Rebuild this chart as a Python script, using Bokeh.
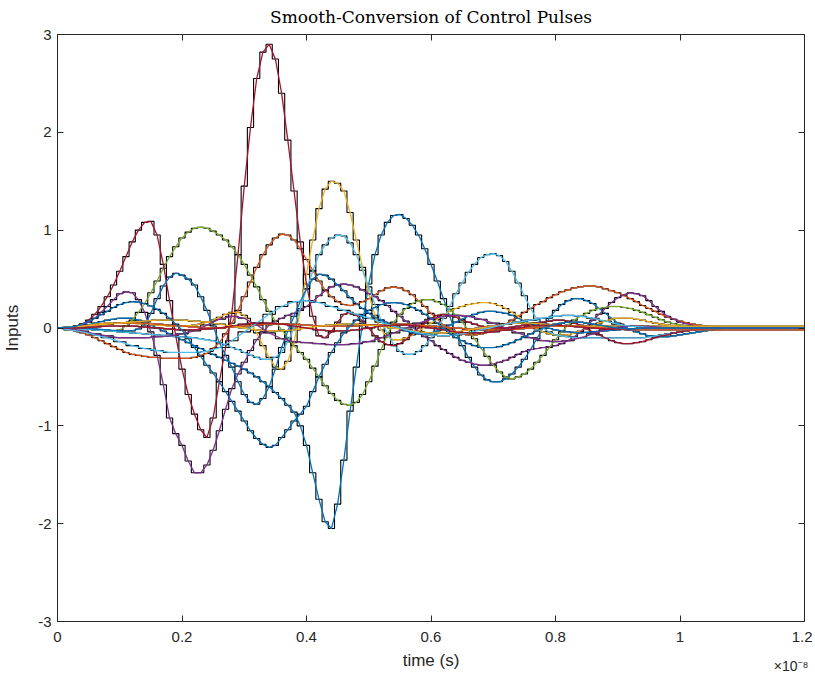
from bokeh.plotting import figure
from bokeh.models import Range1d, FixedTicker, LinearAxis, Title, CustomJSTickFormatter
from bokeh.embed import file_html
from bokeh.resources import INLINE

# time axes in units of 1e-8 s: coarse samples every 0.02, fine samples every 0.01
time_coarse = [round(0.02 * i, 2) for i in range(61)]
time_fine = [round(0.01 * i, 2) for i in range(121)]

x_ticks = [0, 0.2, 0.4, 0.6, 0.8, 1.0, 1.2]
y_ticks = [-3, -2, -1, 0, 1, 2, 3]

# ---- large pulses, sampled every 0.01e-8 s (trailing samples are zero) ----
red_big = [0, 0.0, 0.0, 0.02, 0.04, 0.08, 0.14, 0.22, 0.32, 0.44,
           0.58, 0.73, 0.88, 1.0, 1.08, 1.09, 0.95, 0.65, 0.28, -0.08,
           -0.42, -0.68, -0.88, -1.04, -1.12, -0.92, -0.55, -0.2, 0.15, 0.75,
           1.45, 2.05, 2.55, 2.82, 2.9, 2.75, 2.4, 1.92, 1.4, 0.88,
           0.45, 0.12, -0.08, -0.1, -0.04, 0.06, 0.14, 0.16, 0.13, 0.07,
           0.0, -0.08, -0.14, -0.17, -0.18, -0.16, -0.12, -0.06, 0.0, 0.05,
           0.1, 0.13, 0.14, 0.13, 0.11, 0.08, 0.06, 0.04, 0.02, 0.01,
           0.0, 0.0, 0.0, 0.01, 0.02, 0.03, 0.04, 0.05, 0.06, 0.07,
           0.08, 0.08, 0.07, 0.05, 0.03, -0.01, -0.04, -0.07, -0.1, -0.13,
           -0.15, -0.16, -0.16, -0.15, -0.14, -0.12, -0.1, -0.08, -0.07, -0.05,
           -0.04, -0.03, -0.02, -0.015, -0.01, -0.005]
blue_deep = [0, 0.0, 0.0, 0.01, 0.02, 0.035, 0.05, 0.065, 0.08, 0.09,
             0.1, 0.1, 0.1, 0.08, 0.06, 0.03, 0.0, -0.03, -0.06, -0.09,
             -0.12, -0.15, -0.18, -0.21, -0.24, -0.27, -0.3, -0.33, -0.36, -0.39,
             -0.42, -0.46, -0.5, -0.55, -0.6, -0.66, -0.72, -0.79, -0.86, -1.0,
             -1.2, -1.48, -1.75, -1.98, -2.05, -1.8, -1.35, -0.85, -0.4, 0.05,
             0.45, 0.75, 0.95, 1.08, 1.15, 1.16, 1.12, 1.05, 0.95, 0.81,
             0.65, 0.48, 0.3, 0.12, -0.05, -0.18, -0.3, -0.4, -0.48, -0.53,
             -0.55, -0.55, -0.52, -0.47, -0.4, -0.32, -0.22, -0.11, 0.0, 0.1,
             0.18, 0.24, 0.28, 0.3, 0.3, 0.28, 0.25, 0.2, 0.15, 0.1,
             0.05, 0.01, -0.02, -0.04, -0.06, -0.08, -0.09, -0.09, -0.09, -0.08,
             -0.07, -0.06, -0.05, -0.04, -0.03, -0.02, -0.01, -0.005]
yellow_big = [0, 0.005, 0.01, 0.015, 0.02, 0.03, 0.04, 0.045, 0.05, 0.05,
              0.05, 0.05, 0.05, 0.045, 0.04, 0.035, 0.03, 0.025, 0.02, 0.02,
              0.02, 0.025, 0.03, 0.04, 0.06, 0.08, 0.11, 0.14, 0.16, 0.16,
              0.13, 0.05, -0.05, -0.18, -0.3, -0.4, -0.42, -0.34, -0.15, 0.18,
              0.55, 0.9, 1.22, 1.42, 1.5, 1.48, 1.4, 1.18, 0.9, 0.62,
              0.35, 0.13, -0.02, -0.09, -0.12, -0.12, -0.1, -0.07, -0.03, 0.01,
              0.05, 0.09, 0.13, 0.17, 0.2, 0.22, 0.24, 0.25, 0.26, 0.26,
              0.25, 0.23, 0.2, 0.16, 0.12, 0.07, 0.03, -0.01, -0.04, -0.06,
              -0.07, -0.07, -0.07, -0.05, -0.03, 0.0, 0.02, 0.05, 0.07, 0.09,
              0.1, 0.1, 0.1, 0.09, 0.08, 0.065, 0.05, 0.04, 0.03, 0.025,
              0.02, 0.015, 0.01, 0.005]
purple_big = [0, 0.0, 0.0, 0.01, 0.03, 0.06, 0.1, 0.16, 0.22, 0.29,
              0.35, 0.37, 0.36, 0.29, 0.16, -0.04, -0.28, -0.58, -0.92, -1.08,
              -1.2, -1.36, -1.48, -1.48, -1.4, -1.25, -1.05, -0.83, -0.62, -0.47,
              -0.35, -0.23, -0.12, -0.04, 0.03, 0.07, 0.1, 0.13, 0.15, 0.18,
              0.22, 0.27, 0.33, 0.38, 0.42, 0.44, 0.45, 0.44, 0.42, 0.39,
              0.35, 0.32, 0.28, 0.23, 0.17, 0.12, 0.07, 0.01, -0.04, -0.09,
              -0.13, -0.18, -0.22, -0.26, -0.3, -0.33, -0.35, -0.37, -0.38, -0.38,
              -0.37, -0.35, -0.33, -0.3, -0.27, -0.24, -0.22, -0.21, -0.2, -0.19,
              -0.18, -0.16, -0.13, -0.09, -0.04, 0.02, 0.08, 0.14, 0.2, 0.26,
              0.31, 0.34, 0.36, 0.35, 0.33, 0.28, 0.22, 0.17, 0.12, 0.09,
              0.06, 0.045, 0.03, 0.02, 0.01, 0.005]
green_big = [0, 0, 0, -0.005, -0.01, -0.015, -0.02, -0.025, -0.03, -0.03,
             -0.02, 0.02, 0.08, 0.16, 0.25, 0.36, 0.48, 0.61, 0.73, 0.83,
             0.92, 0.98, 1.02, 1.03, 1.02, 0.99, 0.95, 0.9, 0.83, 0.75,
             0.65, 0.54, 0.42, 0.29, 0.17, 0.07, -0.02, -0.1, -0.18, -0.25,
             -0.32, -0.41, -0.5, -0.59, -0.67, -0.74, -0.78, -0.79, -0.76, -0.68,
             -0.55, -0.39, -0.22, -0.07, 0.06, 0.14, 0.2, 0.25, 0.28, 0.29,
             0.29, 0.27, 0.24, 0.19, 0.13, 0.06, -0.02, -0.11, -0.2, -0.29,
             -0.38, -0.45, -0.5, -0.52, -0.5, -0.47, -0.42, -0.35, -0.28, -0.2,
             -0.12, -0.04, 0.03, 0.08, 0.12, 0.15, 0.18, 0.2, 0.21, 0.22,
             0.22, 0.21, 0.2, 0.18, 0.16, 0.135, 0.11, 0.085, 0.06, 0.045,
             0.03, 0.02, 0.015, 0.01, 0.01, 0.005]
orange_big = [0, -0.005, -0.01, -0.03, -0.05, -0.07, -0.1, -0.13, -0.16, -0.19,
              -0.22, -0.25, -0.27, -0.28, -0.29, -0.3, -0.3, -0.31, -0.31, -0.31,
              -0.31, -0.31, -0.3, -0.28, -0.26, -0.21, -0.15, -0.06, 0.05, 0.18,
              0.32, 0.47, 0.62, 0.75, 0.85, 0.92, 0.96, 0.95, 0.9, 0.81,
              0.7, 0.59, 0.48, 0.39, 0.32, 0.27, 0.24, 0.23, 0.24, 0.27,
              0.3, 0.34, 0.38, 0.41, 0.42, 0.41, 0.38, 0.34, 0.28, 0.22,
              0.15, 0.09, 0.03, -0.01, -0.04, -0.06, -0.07, -0.07, -0.06, -0.04,
              -0.02, 0.01, 0.04, 0.08, 0.12, 0.16, 0.2, 0.24, 0.27, 0.31,
              0.34, 0.37, 0.39, 0.41, 0.42, 0.43, 0.43, 0.42, 0.4, 0.38,
              0.36, 0.33, 0.3, 0.27, 0.23, 0.2, 0.17, 0.14, 0.11, 0.09,
              0.07, 0.055, 0.04, 0.03, 0.02, 0.015, 0.01, 0.005]
blue_mid = [0, 0, 0, 0, 0, -0.005, -0.01, -0.015, -0.02, -0.025,
            -0.03, -0.03, -0.03, -0.01, 0.03, 0.15, 0.3, 0.43, 0.52, 0.56,
            0.54, 0.5, 0.44, 0.32, 0.18, 0.02, -0.15, -0.28, -0.4, -0.55,
            -0.68, -0.76, -0.78, -0.72, -0.6, -0.42, -0.2, -0.03, 0.12, 0.27,
            0.4, 0.5, 0.55, 0.54, 0.5, 0.44, 0.38, 0.31, 0.25, 0.2,
            0.15, 0.11, 0.08, 0.05, 0.02, -0.005, -0.03, -0.05, -0.06, -0.06,
            -0.05, -0.03, 0.0, 0.03, 0.06, 0.09, 0.12, 0.14, 0.16, 0.17,
            0.17, 0.16, 0.15, 0.13, 0.1, 0.07, 0.05, 0.03, 0.01, -0.005,
            -0.02, -0.03, -0.04, -0.045, -0.05, -0.045, -0.04, -0.035, -0.03, -0.025,
            -0.02, -0.015, -0.01, -0.005]
blue_trough = [0, 0.005, 0.01, 0.02, 0.04, 0.07, 0.1, 0.135, 0.17, 0.21,
               0.24, 0.26, 0.27, 0.265, 0.25, 0.225, 0.19, 0.15, 0.1, 0.04,
               -0.02, -0.11, -0.2, -0.29, -0.38, -0.46, -0.55, -0.65, -0.75, -0.85,
               -0.95, -1.05, -1.13, -1.19, -1.22, -1.2, -1.12, -1.04, -0.95, -0.88,
               -0.8, -0.65, -0.5, -0.37, -0.25, -0.15, -0.05, 0.02, 0.08, 0.13,
               0.18, 0.21, 0.24, 0.255, 0.26, 0.255, 0.24, 0.21, 0.18, 0.14,
               0.1, 0.05, 0.0, -0.05, -0.1, -0.13, -0.16, -0.18, -0.2, -0.2,
               -0.2, -0.19, -0.17, -0.15, -0.12, -0.09, -0.06, -0.03, 0.0, 0.02,
               0.04, 0.05, 0.06, 0.06, 0.06, 0.05, 0.04, 0.03, 0.02, 0.01,
               0.0, -0.005, -0.01, -0.005]
cyan_big = [0, 0, 0, -0.005, -0.01, -0.015, -0.02, -0.025, -0.03, -0.035,
            -0.04, -0.045, -0.05, -0.055, -0.06, -0.065, -0.07, -0.075, -0.08, -0.085,
            -0.09, -0.095, -0.1, -0.11, -0.12, -0.13, -0.15, -0.17, -0.2, -0.22,
            -0.25, -0.28, -0.3, -0.32, -0.32, -0.3, -0.25, -0.14, 0.0, 0.2,
            0.4, 0.58, 0.75, 0.85, 0.92, 0.95, 0.94, 0.87, 0.75, 0.59,
            0.42, 0.24, 0.08, -0.06, -0.17, -0.24, -0.27, -0.27, -0.24, -0.18,
            -0.1, 0.0, 0.1, 0.22, 0.35, 0.46, 0.57, 0.65, 0.72, 0.75,
            0.76, 0.74, 0.68, 0.58, 0.46, 0.33, 0.2, 0.09, 0.0, -0.04,
            -0.07, -0.08, -0.09, -0.095, -0.1, -0.1, -0.1, -0.1, -0.1, -0.1,
            -0.1, -0.1, -0.1, -0.1, -0.1, -0.09, -0.08, -0.07, -0.06, -0.05,
            -0.04, -0.03, -0.02, -0.015, -0.01, -0.005]

# ---- small pulses, sampled every 0.02e-8 s ----
cyan_low = [0, -0.02, -0.04, -0.07, -0.1, -0.14, -0.18, -0.21, -0.23, -0.25, -0.25, -0.25, -0.24, -0.2, -0.13,
            -0.04, 0.05, 0.14, 0.22, 0.27, 0.28, 0.26, 0.22, 0.18, 0.14, 0.1, 0.06, 0.02, -0.02, -0.05,
            -0.07, -0.08, -0.07, -0.05, -0.02, 0.01, 0.04, 0.06, 0.08, 0.1, 0.12, 0.13, 0.12, 0.1, 0.07,
            0.04, 0.02, 0.01]
purple_low = [0, -0.01, -0.03, -0.06, -0.08, -0.1, -0.1, -0.1, -0.09, -0.08, -0.06, -0.03, 0.03, 0.09, 0.12,
              0.1, 0.03, -0.05, -0.11, -0.14, -0.15, -0.16, -0.17, -0.17, -0.16, -0.14, -0.1, -0.05, 0.0, 0.05,
              0.09, 0.12, 0.13, 0.12, 0.09, 0.05, 0.0, -0.05, -0.1, -0.13, -0.14, -0.13, -0.1, -0.06, -0.02,
              0.01, 0.02, 0.02, 0.01]
orange_flat = [0, 0.01, 0.02, 0.03, 0.04, 0.05, 0.05, 0.05, 0.04, 0.03, 0.02, 0.01, 0.0, 0.0, 0.01,
               0.02, 0.03, 0.04, 0.04, 0.04, 0.03, 0.02, 0.02, 0.02, 0.02, 0.03, 0.03, 0.04, 0.04, 0.03,
               0.02, 0.01, 0.0, -0.01, -0.02, -0.02, -0.02, -0.01, 0.0, 0.01, 0.02, 0.02, 0.02, 0.01, 0.0,
               -0.01, -0.02, -0.02, -0.02, -0.02, -0.02, -0.02, -0.02, -0.02, -0.02, -0.02, -0.02, -0.02, -0.02, -0.02, -0.02]
yellow_flat = [0, 0.01, 0.02, 0.03, 0.04, 0.05, 0.06, 0.07, 0.08, 0.08, 0.08, 0.07, 0.06, 0.04, 0.02,
               0.0, -0.02, -0.03, -0.03, -0.02, 0.0, 0.02, 0.03, 0.04, 0.04, 0.03, 0.02, 0.0, -0.02, -0.04,
               -0.05, -0.05, -0.04, -0.02, 0.0, 0.02, 0.04, 0.05, 0.05, 0.04, 0.03, 0.02, 0.02, 0.02, 0.02,
               0.02, 0.02, 0.02, 0.02, 0.02, 0.02, 0.02, 0.02, 0.02, 0.02, 0.02, 0.02, 0.02, 0.02, 0.02, 0.02]
red_flat = [0, 0.0, 0.0, 0.01, 0.02, 0.02, 0.02, 0.01, 0.0, -0.01, -0.02, -0.02, -0.01, 0.0, 0.02,
            0.04, 0.05, 0.05, 0.04, 0.02, 0.0, -0.02, -0.03, -0.03, -0.02, 0.0, 0.02, 0.03, 0.03, 0.02,
            0.0, -0.02, -0.04, -0.05, -0.05, -0.04, -0.02, 0.0, 0.02, 0.03, 0.03, 0.02, 0.01, 0.0, -0.01,
            -0.01, -0.01]

series = [
    (blue_deep, "#0072BD", time_fine),
    (orange_big, "#D95319", time_fine),
    (yellow_big, "#EDB120", time_fine),
    (purple_big, "#7E2F8E", time_fine),
    (green_big, "#77AC30", time_fine),
    (cyan_big, "#4DBEEE", time_fine),
    (red_big, "#A2142F", time_fine),
    (blue_mid, "#0072BD", time_fine),
    (orange_flat, "#D95319", time_coarse),
    (yellow_flat, "#EDB120", time_coarse),
    (purple_low, "#7E2F8E", time_coarse),
    (cyan_low, "#4DBEEE", time_coarse),
    (red_flat, "#A2142F", time_coarse),
    (blue_trough, "#0072BD", time_fine),
]

p = figure(frame_width=747, frame_height=587, output_backend="svg", toolbar_location=None,
           x_range=Range1d(0, 1.2), y_range=Range1d(-3, 3),
           title="Smooth-Conversion of Control Pulses",
           min_border_left=53, min_border_right=8, min_border_top=33, min_border_bottom=52)
p.background_fill_color = "white"
p.border_fill_color = "white"
p.outline_line_color = "#262626"
p.outline_line_width = 1
p.xgrid.visible = False
p.ygrid.visible = False

p.title.text_font = "DejaVu Serif"
p.title.text_font_size = "17px"
p.title.text_font_style = "normal"
p.title.text_color = "#000000"
p.title.align = "center"
p.title.vertical_align = "top"
p.title.standoff = 12

def padded(vals, tt):
    n = len(tt)
    return (list(vals) + [0] * n)[:n]   # pulses are zero after they end

for vals, col, tt in series:
    p.step(tt, padded(vals, tt), mode="center", line_color="black", line_width=1.1)
for vals, col, tt in series:
    p.line(tt, padded(vals, tt), line_color=col, line_width=1.3)

def style_axis(ax, labels=True):
    ax.axis_line_color = "#262626"
    ax.major_tick_line_color = "#262626"
    ax.minor_tick_line_color = None
    ax.major_tick_in = 6
    ax.major_tick_out = 0
    ax.major_label_text_font = "Liberation Sans"
    ax.major_label_text_font_size = "15px"
    ax.major_label_text_color = "#262626"
    ax.axis_label_text_font = "Liberation Sans"
    ax.axis_label_text_font_size = "17px"
    ax.axis_label_text_font_style = "normal"
    ax.axis_label_text_color = "#262626"
    if not labels:
        ax.major_label_text_color = None
        ax.major_label_text_font_size = "1px"
        ax.major_label_standoff = 0

xax = p.xaxis[0]
yax = p.yaxis[0]
xax.ticker = FixedTicker(ticks=x_ticks)
yax.ticker = FixedTicker(ticks=y_ticks)
xax.formatter = CustomJSTickFormatter(code="return String(Math.round(tick*10)/10);")
yax.formatter = CustomJSTickFormatter(code="return String(Math.round(tick));")
xax.axis_label = "time (s)"
yax.axis_label = "Inputs"
style_axis(xax)
style_axis(yax)
xax.major_label_standoff = 10
yax.major_label_standoff = 6
xax.axis_label_standoff = 6
yax.axis_label_standoff = 13

top = LinearAxis(ticker=FixedTicker(ticks=x_ticks))
right = LinearAxis(ticker=FixedTicker(ticks=y_ticks))
style_axis(top, labels=False)
style_axis(right, labels=False)
p.add_layout(top, "above")
p.add_layout(right, "right")

exp_title = Title(text="×10⁻⁸", align="right", vertical_align="top", standoff=-30, offset=-4,
                  text_font="Liberation Sans", text_font_size="14px", text_font_style="normal",
                  text_color="#262626")
p.add_layout(exp_title, "below")

open("out.html", "w").write(file_html(p, INLINE))
